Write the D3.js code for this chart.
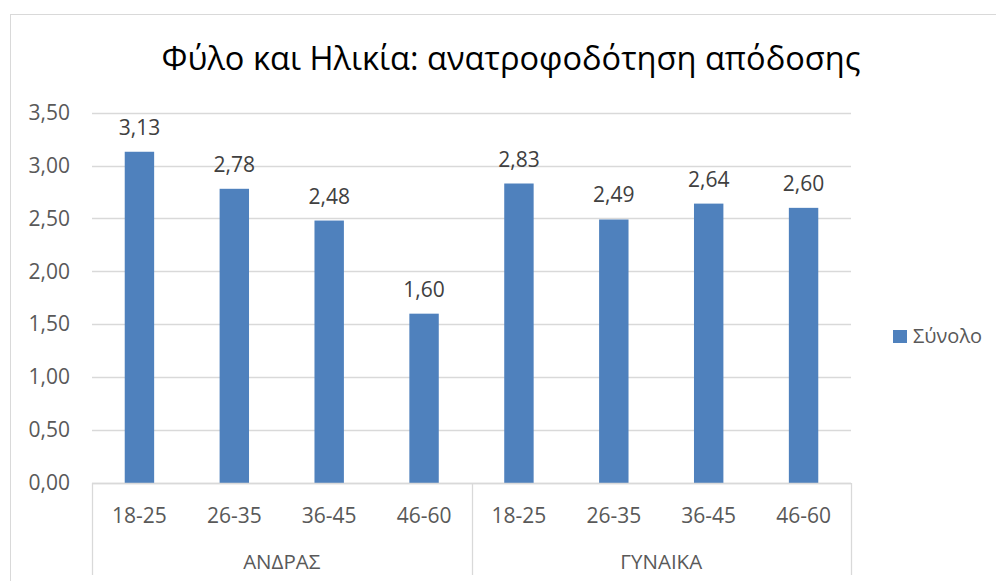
<!DOCTYPE html>
<html><head><meta charset="utf-8">
<script src="https://cdn.jsdelivr.net/npm/d3@7"></script>
<style>
html,body{margin:0;padding:0;background:#fff;}
svg{display:block;font-family:"Open Sans","Noto Sans",sans-serif;}
</style></head>
<body>
<svg id="chart" width="996" height="581"></svg>
<script>
const title = "Φύλο και Ηλικία: ανατροφοδότηση απόδοσης";
const groups = ["ΑΝΔΡΑΣ", "ΓΥΝΑΙΚΑ"];
const ages = ["18-25", "26-35", "36-45", "46-60"];
const values = [3.13, 2.78, 2.48, 1.60, 2.83, 2.49, 2.64, 2.60];
const yTicks = [0, 0.5, 1, 1.5, 2, 2.5, 3, 3.5];
const seriesName = "Σύνολο";

(function () {
const svg = d3.select("#chart");
const pLeft = 92, pRight = 851, pTop = 112.6, pBottom = 483, axisBottom = 575;
const grey = "#D9D9D9", barColor = "#4F81BD";

// chart frame
svg.append("rect").attr("x", 10.5).attr("y", 14.5).attr("width", 1100).attr("height", 700)
  .attr("fill", "#fff").attr("stroke", grey).attr("stroke-width", 1);

const loc = d3.formatLocale({decimal: ",", thousands: ".", grouping: [3], currency: ["", "€"]});
const fmt = loc.format(".2f");

const cats = [];
groups.forEach((g, gi) => ages.forEach((a, ai) => cats.push({g, a, key: gi + "|" + a, v: values[gi * ages.length + ai]})));

const y = d3.scaleLinear().domain([0, 3.5]).range([pBottom, pTop]);
const x = d3.scaleBand().domain(cats.map(c => c.key)).range([pLeft, pRight]).paddingInner(0.69).paddingOuter(0.345);
const gx = d3.scaleBand().domain(groups).range([pLeft, pRight]);

// gridlines
svg.append("g").selectAll("line").data(yTicks).join("line")
  .attr("x1", pLeft).attr("x2", pRight)
  .attr("y1", d => Math.round(y(d)) + 0.5).attr("y2", d => Math.round(y(d)) + 0.5)
  .attr("stroke", grey).attr("stroke-width", 1.3);

// y axis labels
const yAxis = d3.axisLeft(y).tickValues(yTicks).tickFormat(fmt).tickSize(0).tickPadding(0);
const ya = svg.append("g").attr("transform", `translate(70,0)`).call(yAxis);
ya.select(".domain").remove();
ya.selectAll("text").attr("font-size", 21).attr("fill", "#595959")
  .attr("font-family", "'Open Sans','Noto Sans',sans-serif");

// bars
svg.append("g").selectAll("rect").data(cats).join("rect")
  .attr("x", d => x(d.key)).attr("width", x.bandwidth())
  .attr("y", d => y(d.v)).attr("height", d => y(0) - y(d.v))
  .attr("fill", barColor);

// data labels
svg.append("g").selectAll("text").data(cats).join("text")
  .attr("x", d => x(d.key) + x.bandwidth() / 2).attr("y", d => y(d.v) - 17)
  .attr("text-anchor", "middle").attr("font-size", 21).attr("fill", "#404040")
  .text(d => fmt(d.v));

// category axis
const ca = svg.append("g");
ca.append("line").attr("x1", pLeft).attr("x2", pRight).attr("y1", pBottom + 0.5).attr("y2", pBottom + 0.5)
  .attr("stroke", grey).attr("stroke-width", 1.3);
const seps = [pLeft, ...groups.map(g => gx(g) + gx.bandwidth())];
ca.selectAll("line.sep").data(seps).join("line").attr("class", "sep")
  .attr("x1", d => Math.round(d) + 0.5).attr("x2", d => Math.round(d) + 0.5)
  .attr("y1", pBottom).attr("y2", axisBottom)
  .attr("stroke", grey).attr("stroke-width", 1.3);
ca.selectAll("text.age").data(cats).join("text").attr("class", "age")
  .attr("x", d => x(d.key) + x.bandwidth() / 2).attr("y", 523)
  .attr("text-anchor", "middle").attr("font-size", 21).attr("fill", "#595959")
  .text(d => d.a);
ca.selectAll("text.grp").data(groups).join("text").attr("class", "grp")
  .attr("x", d => gx(d) + gx.bandwidth() / 2).attr("y", 569)
  .attr("text-anchor", "middle").attr("font-size", 20.5).attr("fill", "#595959")
  .text(d => d);

// title
svg.append("text").attr("x", 511).attr("y", 70).attr("text-anchor", "middle")
  .attr("font-size", 32.6).attr("fill", "#000").text(title);

// legend
const lg = svg.append("g").attr("transform", "translate(893,330)");
lg.append("rect").attr("width", 14).attr("height", 13).attr("fill", barColor);
lg.append("text").attr("x", 20).attr("y", 13).attr("font-size", 20).attr("fill", "#595959").text(seriesName);
})();
</script>
</body></html>
